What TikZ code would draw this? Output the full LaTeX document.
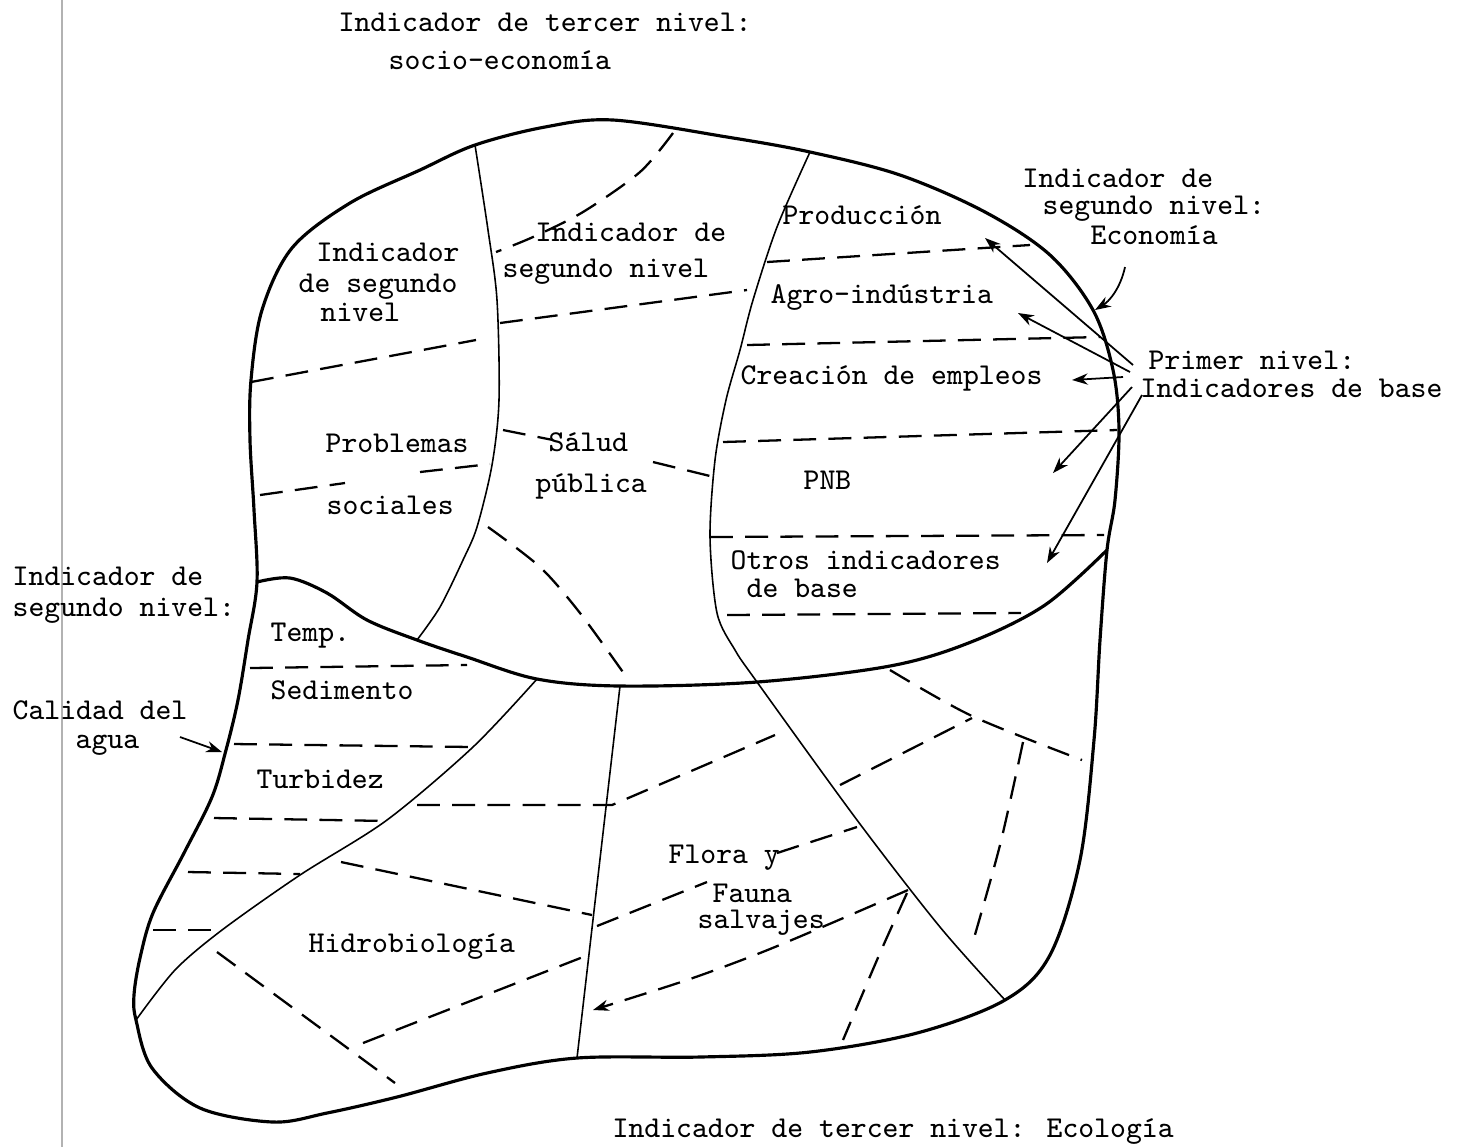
\documentclass[tikz,border=0pt]{standalone}
\usepackage{fontspec}
\usetikzlibrary{arrows.meta}
\tikzset{
  lbl/.style={font=\ttfamily\fontsize{8.6}{10}\selectfont, inner sep=0pt, anchor=base west},
  rim/.style={line width=0.9pt, line join=round},
  part/.style={line width=0.45pt},
  split/.style={line width=0.65pt, dash pattern=on 6.5pt off 3.5pt},
  arr/.style={line width=0.5pt, -{Stealth[length=4.5pt,width=3.2pt]}},
}
\begin{document}
\begin{tikzpicture}[x=0.01cm, y=-0.01cm]
  \useasboundingbox (0,0) rectangle (1458,1147);
  % margin of the page
  \draw[gray!60, line width=0.6pt] (62,0) -- (62,1147);

  % junctions
  \coordinate (jl) at (257,582);
  \coordinate (jr) at (1107,550);
  \coordinate (jt1) at (475,145);
  \coordinate (jt2) at (810,152);
  \coordinate (jb1) at (1005,1000);
  \coordinate (jb2) at (577,1058);
  \coordinate (jb3) at (136,1020);
  \coordinate (ja) at (417,640);
  \coordinate (jd) at (537,679);
  \coordinate (jv) at (620,686);
  \coordinate (jc) at (757,682);

  % outline
  \draw[rim] plot[smooth cycle, tension=0.55] coordinates {
    (jl) (254,510) (250,440) (251,380) (262,310) (292,248) (350,203) (420,170)
    (jt1) (545,127) (613,120) (727,137) (jt2) (900,175) (985,212) (1050,255)
    (1093,310) (1113,370) (1119,430) (1115,500) (jr) (1100,640) (1094,740)
    (1080,860) (1050,955) (jb1) (917,1033) (810,1052) (700,1057) (jb2)
    (487,1073) (397,1097) (327,1113) (273,1122) (200,1108) (152,1068) (jb3)
    (134,995) (140,958) (153,913) (184,853) (212,797) (226,750) (238,700) (248,640)};
  % socio-economia / ecologia
  \draw[rim] plot[smooth, tension=0.55] coordinates {
    (jl) (290,578) (327,593) (367,620) (ja) (467,657) (jd) (jv) (jc)
    (890,666) (971,642) (1045,605) (jr)};

  % solid dividers
  \draw[part] plot[smooth] coordinates {(jt1) (488,230) (497,300) (499,400)
    (492,465) (477,527) (463,560) (440,607) (ja)};
  \draw[part] plot[smooth] coordinates {(jt2) (777,227) (753,300) (740,350)
    (726,400) (715,460) (710,537) (717,613) (735,650) (jc) (857,820) (940,927) (jb1)};
  \draw[part] (jv) -- (jb2);
  \draw[part] plot[smooth] coordinates {(jd) (473,747) (387,820) (300,875)
    (222,930) (175,970) (jb3)};

  % dashed dividers
  \foreach \xa/\ya/\xb/\yb in {
        251/382/476/340, 260/495/345/483, 420/472/490/464, 500/323/747/290,
        503/430/553/440, 653/462/710/476,
        767/262/1030/245, 747/345/1100/337, 723/442/1117/430,
        710/537/1104/535, 727/615/1021/613,
        250/668/467/665, 234/744/473/747, 214/818/388/821,
        188/872/300/874, 153/930/222/930,
        341/862/592/915, 363/1043/583/957, 217/952/395/1083,
        840/785/972/718, 597/926/707/882, 777/853/857/827
  } {
       \draw[split] (\xa,\ya) -- (\xb,\yb);
  }
  \draw[split] plot[smooth] coordinates {(673,133) (640,172) (583,212) (533,237) (496,252)};
  \draw[split] plot[smooth] coordinates {(488,527) (540,567) (580,613) (625,675)};
  \draw[split] (417,805) -- (612,805) -- (775,735);
  \draw[split] plot[smooth] coordinates {(890,670) (972,716) (1082,760)};
  \draw[split] plot[smooth] coordinates {(1023,742) (1000,845) (972,945)};
  \draw[split] plot[smooth] coordinates {(907,893) (880,953) (843,1040)};
  \draw[split, -{Stealth[length=4.5pt,width=3.2pt]}] plot[smooth] coordinates {
    (908,890) (827,925) (760,953) (687,980) (593,1010)};

  % labels
  \foreach \t/\x/\y [count=\n] in {
        Indicador de tercer nivel:/338/31, socio-economía/388/69,
        Indicador de/1022/187, segundo nivel:/1042/214, Economía/1090/244,
        Primer nivel:/1148/369, Indicadores de base/1140/397,
        Indicador/316/261, de segundo/298/292, nivel/320/321,
        Indicador de/535/241, segundo nivel/502/277,
        Problemas/325/452, sociales/326/514,
        Sálud/548/451, pública/535/492,
        Producción/782/224, Agro-indústria/770/303,
        Creación de empleos/740/384, PNB/803/489,
        Otros indicadores/730/569, de base/746/597,
        Indicador de/12/585, segundo nivel:/12/616,
        Calidad del/12/719, agua/75/748,
        Temp./270/641, Sedimento/270/699, Turbidez/256/788,
        Flora y/668/863, Fauna/712/902, salvajes/697/928,
        Hidrobiología/308/952,
        Indicador de tercer nivel: Ecología/612/1137
  } {
       \node[lbl] (t\n) at (\x,\y) {\t};
  }

  % arrows
  \coordinate (ea) at (1125,267);
  \coordinate (eb) at (1095,310);
  \draw[arr] (ea) .. controls (1120,290) and (1108,302) .. (eb);
  \foreach \xa/\ya/\xb/\yb [count=\n] in {
        1133/365/985/238, 1130/372/1018/313, 1123/377/1072/380,
        1132/387/1053/473, 1142/395/1047/563
  } {
       \coordinate (ps\n) at (\xa,\ya);
       \coordinate (pe\n) at (\xb,\yb);
       \draw[arr] (ps\n) -- (pe\n);
  }
  \coordinate (qa) at (180,737);
  \coordinate (qb) at (222,752);
  \draw[arr] (qa) -- (qb);
\end{tikzpicture}
\end{document}
